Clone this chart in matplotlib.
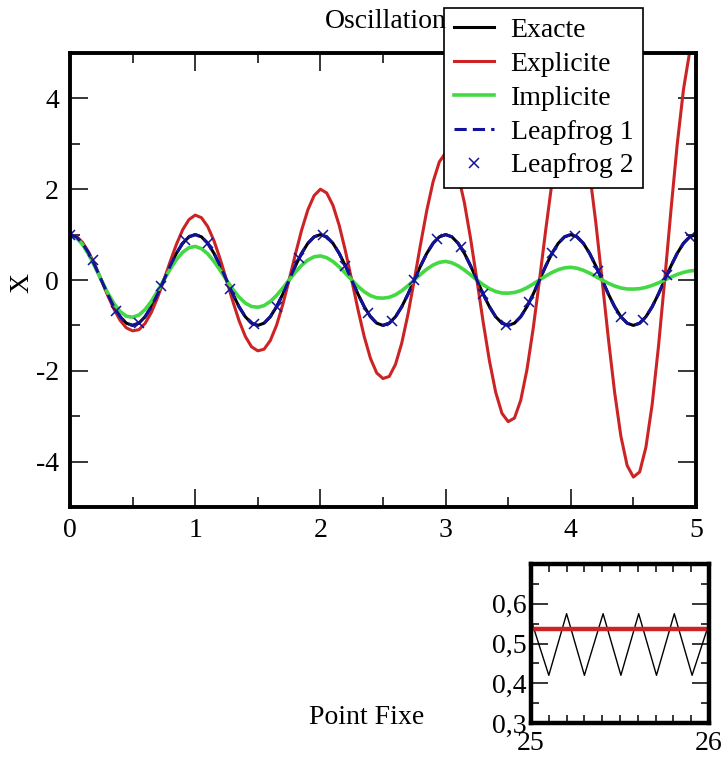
import numpy as np
import matplotlib
matplotlib.use("Agg")
import matplotlib.pyplot as plt
from matplotlib.ticker import MultipleLocator

# --
# Data
# --
t = np.linspace(0, 5, 101)  # sample grid, step 0.05

exacte = [
    1.00, 0.951, 0.809, 0.588, 0.309, 0.0, -0.309, -0.588, -0.809, -0.951,
    -1.00, -0.951, -0.809, -0.588, -0.309, 0.0, 0.309, 0.588, 0.809, 0.951,
    1.00, 0.951, 0.809, 0.588, 0.309, 0.0, -0.309, -0.588, -0.809, -0.951,
    -1.00, -0.951, -0.809, -0.588, -0.309, 0.0, 0.309, 0.588, 0.809, 0.951,
    1.00, 0.951, 0.809, 0.588, 0.309, 0.0, -0.309, -0.588, -0.809, -0.951,
    -1.00, -0.951, -0.809, -0.588, -0.309, 0.0, 0.309, 0.588, 0.809, 0.951,
    1.00, 0.951, 0.809, 0.588, 0.309, 0.0, -0.309, -0.588, -0.809, -0.951,
    -1.00, -0.951, -0.809, -0.588, -0.309, 0.0, 0.309, 0.588, 0.809, 0.951,
    1.00, 0.951, 0.809, 0.588, 0.309, 0.0, -0.309, -0.588, -0.809, -0.951,
    -1.00, -0.951, -0.809, -0.588, -0.309, 0.0, 0.309, 0.588, 0.809, 0.951,
    1.00,
]

explicite = [
    1.00, 0.962, 0.828, 0.609, 0.324, 0.0, -0.331, -0.637, -0.887, -1.054,
    -1.12, -1.095, -0.956, -0.713, -0.384, 0.0, 0.404, 0.786, 1.107, 1.330,
    1.43, 1.372, 1.178, 0.864, 0.458, 0.0, -0.466, -0.894, -1.241, -1.471,
    -1.56, -1.525, -1.333, -0.995, -0.536, 0.0, 0.564, 1.098, 1.547, 1.860,
    2.00, 1.918, 1.646, 1.206, 0.639, 0.0, -0.650, -1.246, -1.728, -2.048,
    -2.17, -2.124, -1.857, -1.387, -0.748, 0.0, 0.787, 1.535, 2.163, 2.603,
    2.80, 2.693, 2.317, 1.703, 0.905, 0.0, -0.925, -1.778, -2.472, -2.937,
    -3.12, -3.041, -2.650, -1.972, -1.060, 0.0, 1.109, 2.156, 3.029, 3.635,
    3.90, 3.751, 3.226, 2.371, 1.259, 0.0, -1.287, -2.474, -3.440, -4.086,
    -4.34, -4.228, -3.683, -2.739, -1.472, 0.0, 1.538, 2.988, 4.197, 5.035,
    5.40,
]

implicite = [
    1.00, 0.934, 0.780, 0.556, 0.287, 0.0, -0.276, -0.514, -0.693, -0.797,
    -0.82, -0.772, -0.650, -0.468, -0.243, 0.0, 0.239, 0.449, 0.612, 0.711,
    0.74, 0.690, 0.576, 0.410, 0.211, 0.0, -0.203, -0.377, -0.508, -0.584,
    -0.60, -0.564, -0.474, -0.340, -0.177, 0.0, 0.172, 0.324, 0.440, 0.511,
    0.53, 0.492, 0.408, 0.289, 0.148, 0.0, -0.140, -0.258, -0.345, -0.393,
    -0.40, -0.381, -0.325, -0.237, -0.125, 0.0, 0.125, 0.239, 0.330, 0.389,
    0.41, 0.379, 0.312, 0.220, 0.112, 0.0, -0.104, -0.192, -0.254, -0.287,
    -0.29, -0.275, -0.233, -0.169, -0.088, 0.0, 0.088, 0.166, 0.228, 0.267,
    0.28, 0.259, 0.214, 0.151, 0.077, 0.0, -0.072, -0.132, -0.175, -0.198,
    -0.20, -0.191, -0.163, -0.119, -0.063, 0.0, 0.064, 0.122, 0.168, 0.199,
    0.21,
]

# Leapfrog 1 sits on top of the exact curve
leapfrog1 = exacte

# Leapfrog 2: discrete points
t_lf2 = [0.00, 0.18, 0.37, 0.55, 0.73, 0.92, 1.10, 1.28, 1.47, 1.65,
         1.83, 2.02, 2.20, 2.38, 2.57, 2.75, 2.93, 3.12, 3.30, 3.48,
         3.67, 3.85, 4.03, 4.22, 4.40, 4.58, 4.77, 4.95]
x_lf2 = [1.00, 0.43, -0.68, -0.95, -0.13, 0.88, 0.81, -0.19, -0.98, -0.59,
         0.48, 0.99, 0.31, -0.73, -0.90, 0.00, 0.90, 0.73, -0.31, -0.99,
         -0.48, 0.59, 0.98, 0.19, -0.81, -0.88, 0.12, 0.95]

# Inset: point fixe
t_pf = [25.0, 25.10, 25.20, 25.30, 25.405, 25.505, 25.605, 25.705, 25.805, 25.905, 26.0]
x_pf = [0.56, 0.42, 0.575, 0.42, 0.575, 0.42, 0.575, 0.42, 0.575, 0.42, 0.55]
pf_level = 0.537

inset_yticks = [0.3, 0.4, 0.5, 0.6]
inset_ylabels = ["0,3", "0,4", "0,5", "0,6"]

# --
# Plot setup
# --
plt.rcParams["font.family"] = ["Liberation Serif", "DejaVu Serif"]
plt.rcParams["font.size"] = 20
plt.rcParams["axes.unicode_minus"] = False

RED = "#cc2424"
GREEN = "#44d844"
BLUE = "#12129a"

fig = plt.figure(figsize=(7.25, 7.58), dpi=100)

ax = fig.add_axes([70 / 725, 1 - 507 / 758, 626 / 725, 454 / 758])
ax.plot(t, exacte, color="black", lw=2.2, label="Exacte")
ax.plot(t, explicite, color=RED, lw=2.2, label="Explicite")
ax.plot(t, implicite, color=GREEN, lw=2.6, label="Implicite")
ax.plot(t, leapfrog1, color=BLUE, lw=2.2, ls=(0, (4, 2)), label="Leapfrog 1")
ax.plot(t_lf2, x_lf2, ls="none", marker="x", ms=7, mew=1.1, color=BLUE,
        label="Leapfrog 2")

ax.set_xlim(0, 5)
ax.set_ylim(-5, 5)
ax.xaxis.set_major_locator(MultipleLocator(1))
ax.xaxis.set_minor_locator(MultipleLocator(0.5))
ax.yaxis.set_major_locator(MultipleLocator(2))
ax.yaxis.set_minor_locator(MultipleLocator(1))
ax.tick_params(which="both", direction="in", top=True, right=True, width=1.1)
ax.tick_params(which="major", length=13, pad=8, labelsize=20)
ax.tick_params(which="minor", length=7)
for s in ax.spines.values():
    s.set_linewidth(2.8)

fig.text(22 / 725, 1 - 283 / 758, "X", rotation=90, ha="center", va="center",
         fontsize=20)
fig.text(325 / 725, 1 - 22 / 758, "Oscillation", ha="left", va="center",
         fontsize=20)

leg = ax.legend(loc="upper left", bbox_to_anchor=(444 / 725, 1 - 8 / 758),
                bbox_transform=fig.transFigure, borderaxespad=0,
                fancybox=False, framealpha=1, edgecolor="black",
                fontsize=20, handlelength=1.45, handletextpad=0.6,
                labelspacing=0.3, borderpad=0.35)
leg.get_frame().set_linewidth(1.2)

# Inset
ins = fig.add_axes([531 / 725, 1 - 723 / 758, 178 / 725, 159 / 758])
ins.plot(t_pf, x_pf, color="black", lw=1.0)
ins.axhline(pf_level, color=RED, lw=3.2)
ins.set_xlim(25, 26)
ins.set_ylim(0.3, 0.7)
ins.set_xticks([25, 26])
ins.set_xticklabels(["25", "26"])
ins.xaxis.set_minor_locator(MultipleLocator(0.1))
ins.set_yticks(inset_yticks)
ins.set_yticklabels(inset_ylabels)
ins.yaxis.set_minor_locator(MultipleLocator(0.05))
ins.tick_params(which="both", direction="in", top=True, right=True, width=1.1)
ins.tick_params(which="major", length=12, labelsize=20)
ins.tick_params(axis="x", which="major", pad=6)
ins.tick_params(axis="y", which="major", pad=3)
ins.tick_params(which="minor", length=6)
for s in ins.spines.values():
    s.set_linewidth(3.2)

fig.text(367 / 725, 1 - 717 / 758, "Point Fixe", ha="center", va="center",
         fontsize=20)

fig.savefig("out.png", dpi=100)
